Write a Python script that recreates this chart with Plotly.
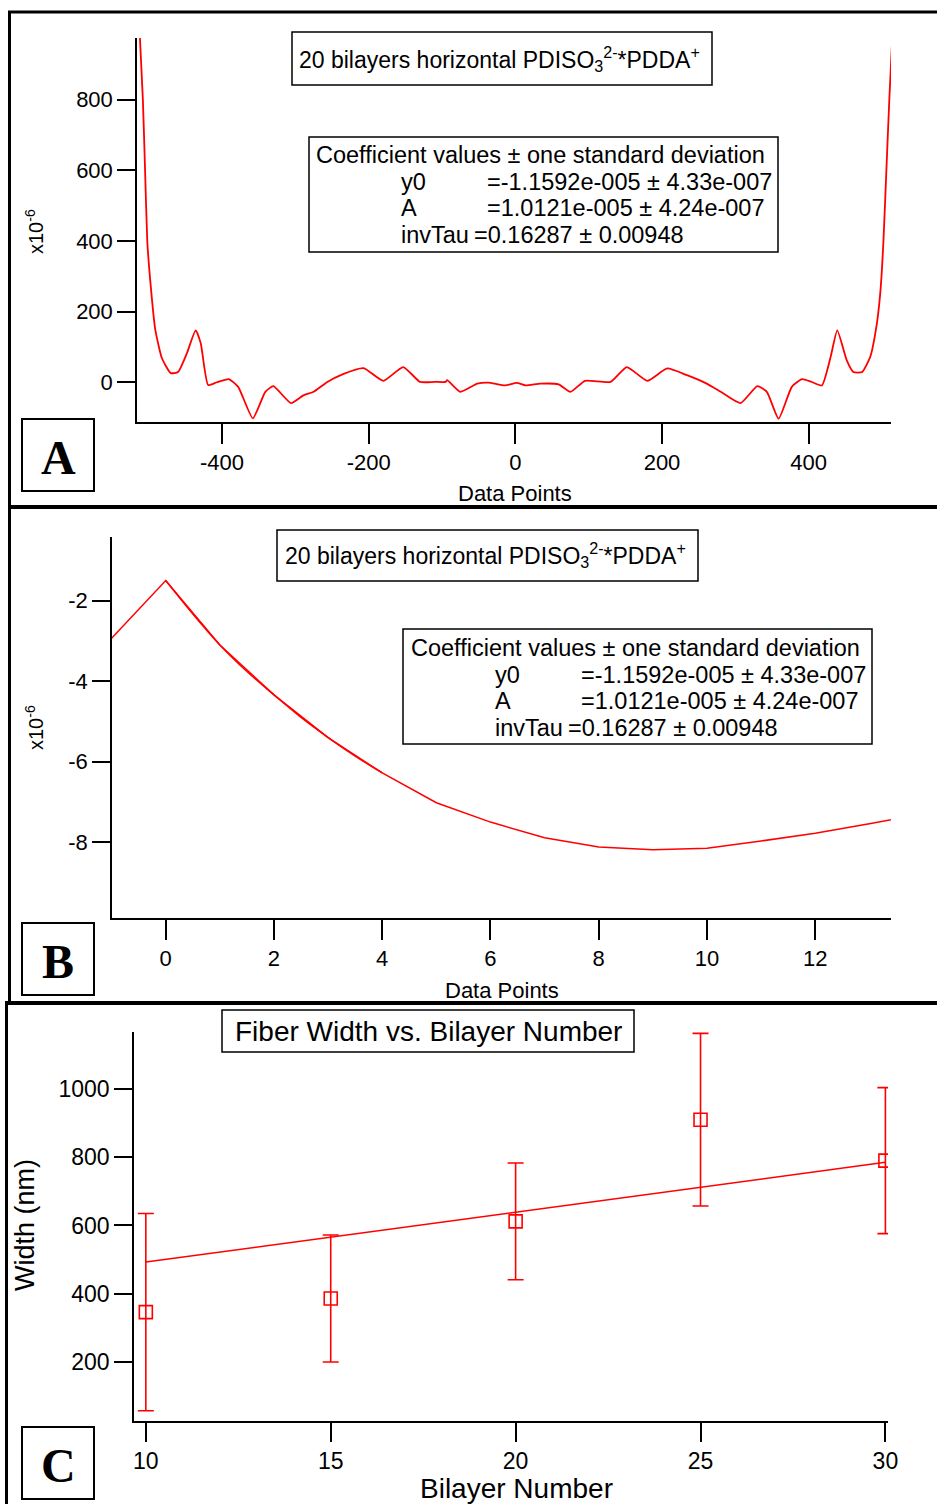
import plotly.graph_objects as go

W, H = 937, 1504

# ---------------- data ----------------
# Panel A (y in units of 1e-6)
a_x = [-516, -512, -508, -505, -502, -498, -491, -482, -470, -460, -448, -436, -429, -419,
       -407, -391, -378, -358, -341, -330, -306, -289, -275, -257, -235, -207, -180, -153,
       -130, -110, -95, -93, -75, -52, -37, -14, 2, 14, 34, 59, 75, 95, 130, 152, 180, 207,
       234, 261, 280, 307, 330, 343, 359, 377, 391, 403, 418, 430, 439, 452, 461, 473, 484,
       493, 498, 502, 506, 510, 514, 518]
a_y = [1200, 975, 800, 600, 400, 289, 148, 68, 26, 29, 82, 147, 110, -8,
       0, 9, -13, -102, -27, -11, -59, -37, -27, 0, 23, 40, 4, 43,
       1, 1, 1, 6, -27, -4, -1, -9, -2, -9, -4, -6, -27, 4, 1, 43, 4, 39,
       20, -4, -27, -59, -11, -27, -103, -13, 9, 2, -9, 72, 147, 62, 29, 29, 72,
       166, 261, 400, 600, 800, 975, 1200]
a_xticks = [-400, -200, 0, 200, 400]
a_xticktext = ["-400", "-200", "0", "200", "400"]
a_yticks = [0, 200, 400, 600, 800]

# Panel B (y in units of 1e-6)
b_x = [-1, 0, 1, 2, 3, 4, 5, 6, 7, 8, 9, 10, 11, 12, 13, 14]
b_y = [-2.93, -1.50, -3.10, -4.34, -5.40, -6.28, -7.02, -7.50, -7.89, -8.12, -8.19, -8.15,
       -7.97, -7.78, -7.54, -7.30]
b_fit_x = [0, 0.5, 1, 1.5, 2, 2.5, 3, 3.5, 4]
b_fit_y = [-1.50, -2.33, -3.10, -3.76, -4.34, -4.90, -5.40, -5.86, -6.28]
b_xticks = [0, 2, 4, 6, 8, 10, 12]
b_yticks = [-2, -4, -6, -8]
b_yticktext = ["-2", "-4", "-6", "-8"]

# Panel C
c_x = [10, 15, 20, 25, 30]
c_y = [346, 386, 612, 910, 790]
c_err = [289, 186, 171, 253, 214]
c_fit_x = [10, 30]
c_fit_y = [493, 785]
c_xticks = [10, 15, 20, 25, 30]
c_yticks = [200, 400, 600, 800, 1000]

coef_labels = ["y0", "A", "invTau"]
coef_values = ["=-1.1592e-005 ± 4.33e-007", "=1.0121e-005 ± 4.24e-007", "=0.16287 ± 0.00948"]
title_ab = "20 bilayers horizontal PDISO<sub>3</sub><sup>2-</sup>*PDDA<sup>+</sup>"

# ---------------- helpers ----------------
def X(px):
    return px / W

def Y(py):
    return 1 - py / H

FONT = "Liberation Sans, Arial, sans-serif"
SERIF = "Liberation Serif, Times New Roman, serif"
RED = "#ff0000"

fig = go.Figure()
fig.add_trace(go.Scatter(x=a_x, y=a_y, mode="lines", line=dict(color=RED, width=1.8, shape="spline", smoothing=0.5),
                         xaxis="x", yaxis="y", showlegend=False))
fig.add_trace(go.Scatter(x=b_x, y=b_y, mode="lines", line=dict(color=RED, width=1.5),
                         xaxis="x2", yaxis="y2", showlegend=False))
fig.add_trace(go.Scatter(x=b_fit_x, y=b_fit_y, mode="lines", line=dict(color=RED, width=1.5, shape="spline"),
                         xaxis="x2", yaxis="y2", showlegend=False))
fig.add_trace(go.Scatter(x=c_fit_x, y=c_fit_y, mode="lines", line=dict(color=RED, width=1.5),
                         xaxis="x3", yaxis="y3", showlegend=False))
fig.add_trace(go.Scatter(x=c_x, y=c_y, mode="markers",
                         marker=dict(symbol="square-open", size=13, color=RED, line=dict(width=1.6, color=RED)),
                         error_y=dict(type="data", array=c_err, visible=True, color=RED, thickness=1.6, width=8),
                         xaxis="x3", yaxis="y3", showlegend=False))

def ax(domain, rng, tickvals, ticktext=None, anchor=None, ticklen=18, size=22):
    d = dict(domain=domain, range=rng, tickvals=tickvals, showline=True, linecolor="black", linewidth=1.5,
             ticks="outside", ticklen=ticklen, tickwidth=1.5, tickcolor="black", showgrid=False,
             zeroline=False, automargin=False,
             tickfont=dict(family=FONT, size=size, color="black"), anchor=anchor)
    if ticktext is not None:
        d["ticktext"] = ticktext
    return d

fig.update_layout(
    width=W, height=H, margin=dict(l=0, r=0, t=0, b=0, pad=0, autoexpand=False), autosize=False,
    paper_bgcolor="white", plot_bgcolor="white",
    font=dict(family=FONT, color="black"),
    xaxis=ax([X(137), X(891)], [-516, 512.3], a_xticks, a_xticktext, anchor="y", ticklen=20),
    yaxis=ax([Y(422), Y(38)], [-112.5, 974.5], a_yticks, anchor="x"),
    xaxis2=ax([X(112), X(891)], [-0.993, 13.40], b_xticks, anchor="y2", ticklen=20),
    yaxis2=ax([Y(918), Y(537)], [-9.883, -0.417], b_yticks, b_yticktext, anchor="x2"),
    xaxis3=ax([X(134), X(888)], [9.68, 30.07], c_xticks, anchor="y3", ticklen=19, size=23),
    yaxis3=ax([Y(1421), Y(1032)], [27, 1167], c_yticks, anchor="x3", size=23),
)

shapes = []
def line(x0, y0, x1, y1, w):
    shapes.append(dict(type="line", xref="paper", yref="paper", x0=X(x0), y0=Y(y0), x1=X(x1), y1=Y(y1),
                       line=dict(color="black", width=w), layer="above"))

def rect(x0, y0, x1, y1, w):
    shapes.append(dict(type="rect", xref="paper", yref="paper", x0=X(x0), y0=Y(y0), x1=X(x1), y1=Y(y1),
                       line=dict(color="black", width=w), fillcolor="rgba(0,0,0,0)", layer="above"))

# panel borders
line(8, 12, 937, 12, 3)
line(9.5, 11, 9.5, 1003, 3)
line(8, 507, 937, 507, 4)
line(5, 1003, 937, 1003, 4)
line(6.5, 1003, 6.5, 1504, 3)

# boxes
rect(292, 32, 712, 85, 1.5)
rect(309, 137, 778, 252, 1.5)
rect(277, 530, 698, 581, 1.5)
rect(403, 629, 872, 744, 1.5)
rect(222, 1010, 634, 1052, 1.5)
rect(22, 419, 94, 491, 2)
rect(22, 923, 94, 995, 2)
rect(22, 1427, 94, 1499, 2)

ann = []
def text(t, x, y, size, xanchor="left", angle=0, family=FONT):
    ann.append(dict(text=t, x=X(x), y=Y(y), xref="paper", yref="paper", xanchor=xanchor, yanchor="middle",
                    showarrow=False, textangle=angle, font=dict(family=family, size=size, color="black")))

# titles
text(title_ab, 500, 59, 23, "center")
text(title_ab, 486, 555, 23, "center")
text("Fiber Width vs. Bilayer Number", 428, 1031, 28, "center")

# coefficient boxes
for (bx, by, labx, valx, invx) in [(314, 155, 399, 485, 472), (409, 648, 493, 579, 566)]:
    text("Coefficient values ± one standard deviation", bx, by, 23.5)
    for i, (lab, val) in enumerate(zip(coef_labels, coef_values)):
        yy = by + 26.5 * (i + 1)
        text(lab, labx, yy, 23.5)
        text(val, invx if lab == "invTau" else valx, yy, 23.5)

# axis titles
text("x10<sup>-6</sup>", 34, 232, 20, "center", -90)
text("x10<sup>-6</sup>", 34, 728, 20, "center", -90)
text("Data Points", 515, 493, 22, "center")
text("Data Points", 502, 990, 22, "center")
text("Bilayer Number", 516, 1488, 28, "center")
text("Width (nm)", 25, 1225, 27, "center", -90)

# panel letters
for letter, cy in [("A", 457), ("B", 961), ("C", 1465)]:
    ann.append(dict(text="<b>%s</b>" % letter, x=X(58), y=Y(cy), xref="paper", yref="paper", showarrow=False,
                    xanchor="center", yanchor="middle", font=dict(family=SERIF, size=48, color="black")))

fig.update_layout(shapes=shapes, annotations=ann)
fig.write_html("out.html")
